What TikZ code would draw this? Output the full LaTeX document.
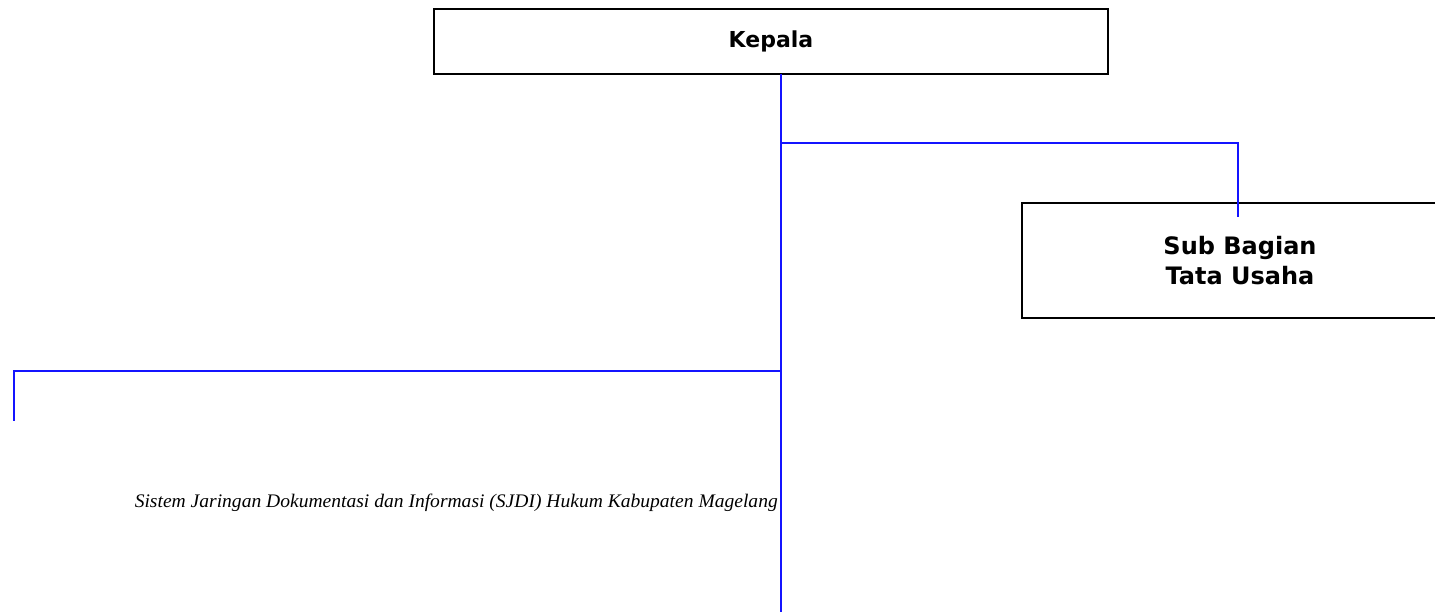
\documentclass[tikz,border=0pt]{standalone}
\usepackage{fontspec}
\setsansfont{DejaVu Sans}
\newfontfamily\captionfont{Liberation Serif}
\begin{document}
\begin{tikzpicture}[x=1pt,y=-1pt,
  unitbox/.style={draw=black,line width=2pt,fill=white,inner sep=0pt,
    font=\sffamily\bfseries,align=center},
  link/.style={draw={rgb,255:red,20;green,20;blue,255},line width=2pt}]
  \useasboundingbox (0,0) rectangle (1435,612);
  \clip (0,0) rectangle (1435,612);

  % units
  \node[unitbox,minimum width=674pt,minimum height=65pt,font=\sffamily\bfseries\fontsize{22}{26}\selectfont]
    (kepala) at (771,41.5) {Kepala};
  \node[unitbox,minimum width=436pt,minimum height=115pt,
    font=\sffamily\bfseries\fontsize{24}{30}\selectfont]
    (tu) at (1240,260.5) {Sub Bagian\\Tata Usaha};

  % connector points
  \coordinate (top)   at (781,74);
  \coordinate (base)  at (781,612);
  \coordinate (jr)    at (781,143);
  \coordinate (jl)    at (781,371);
  \coordinate (tuin)  at (1238,217);
  \coordinate (lend)  at (14,421);

  % trunk and branches
  \draw[link] (top) -- (base);
  \draw[link] (jr) -| (tuin);
  \draw[link] (jl) -| (lend);

  % caption
  \node[anchor=base east,inner sep=0pt]
    (caption) at (778,507) {\resizebox{643pt}{13.5pt}{\captionfont\itshape\fontsize{17}{20}\selectfont Sistem Jaringan Dokumentasi dan Informasi (SJDI) Hukum Kabupaten Magelang}};
\end{tikzpicture}
\end{document}
